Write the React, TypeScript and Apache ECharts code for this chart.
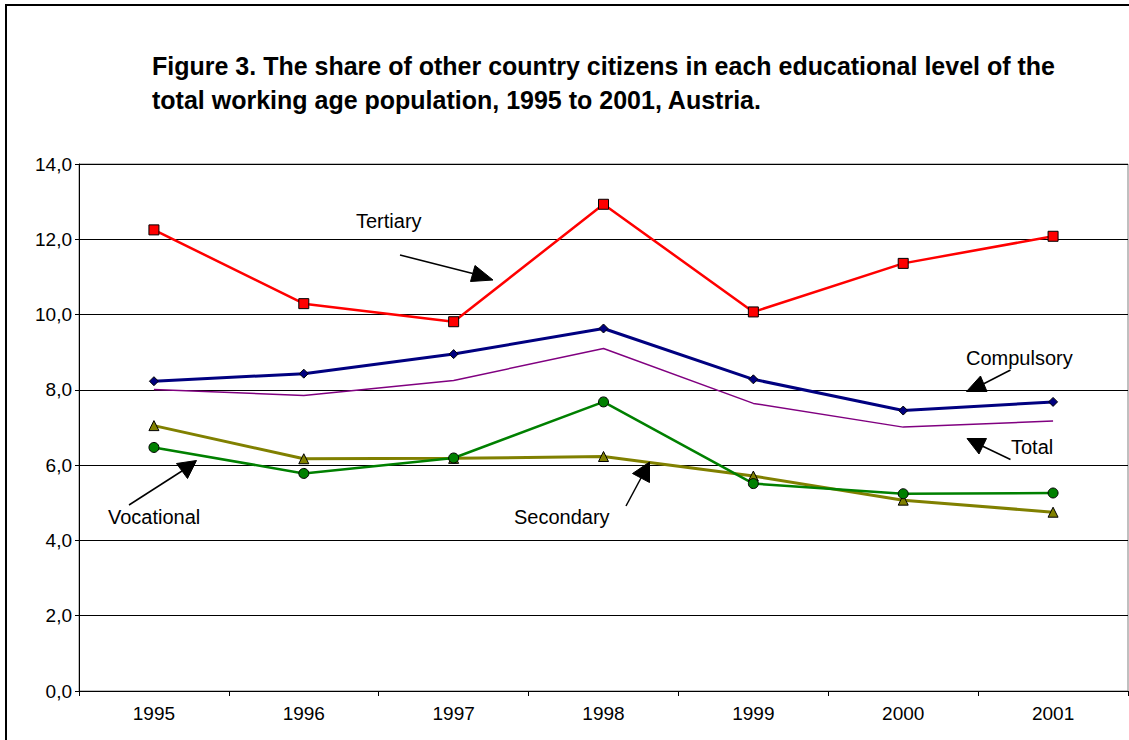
import React, { useEffect, useRef } from "react";
import * as echarts from "echarts";

const years = ["1995", "1996", "1997", "1998", "1999", "2000", "2001"];
const tertiary = [12.25, 10.29, 9.81, 12.93, 10.07, 11.36, 12.08];
const compulsory = [8.23, 8.43, 8.95, 9.63, 8.28, 7.45, 7.68];
const total = [8.01, 7.85, 8.25, 9.1, 7.64, 7.01, 7.17];
const secondary = [7.05, 6.17, 6.18, 6.23, 5.71, 5.07, 4.75];
const vocational = [6.47, 5.78, 6.19, 7.68, 5.51, 5.24, 5.26];

const titleLines = [
  "Figure 3. The share of other country citizens in each educational level of the",
  "total working age population, 1995 to 2001, Austria.",
];

const FONT = "'Liberation Sans', Arial, Helvetica, sans-serif";

function arrow(x1: number, y1: number, tip: number[], b1: number[], b2: number[]) {
  return [
    {
      type: "line",
      shape: { x1, y1, x2: (b1[0] + b2[0]) / 2, y2: (b1[1] + b2[1]) / 2 },
      style: { stroke: "#000", lineWidth: 1.5 },
      z: 100,
    },
    {
      type: "polygon",
      shape: { points: [tip, b1, b2] },
      style: { fill: "#000", stroke: "#000", lineWidth: 1 },
      z: 100,
    },
  ];
}

function label(text: string, x: number, y: number) {
  return {
    type: "text",
    x,
    y,
    style: {
      text,
      fill: "#000",
      font: `20px ${FONT}`,
      textVerticalAlign: "middle",
      verticalAlign: "middle",
    },
    z: 100,
  };
}

export default function App() {
  const ref = useRef<HTMLDivElement>(null);
  useEffect(() => {
    document.body.style.margin = "0";
    const chart = echarts.init(ref.current!, null, { renderer: "svg" });
    const mk = (name: string, data: number[], color: string, width: number, symbol: string, size: number) => ({
      name,
      type: "line",
      data,
      symbol,
      symbolSize: size,
      showSymbol: symbol !== "none",
      lineStyle: { color, width },
      itemStyle: { color, borderColor: "#000", borderWidth: 1 },
      emphasis: { disabled: true },
    });
    chart.setOption({
      animation: false,
      backgroundColor: "#fff",
      textStyle: { fontFamily: FONT },
      grid: { left: 79, top: 164, right: 1, bottom: 49, show: true, borderColor: "#808080", borderWidth: 1 },
      xAxis: {
        type: "category",
        data: years,
        boundaryGap: true,
        axisLine: { lineStyle: { color: "#000", width: 1 } },
        axisTick: { show: true, length: 5, lineStyle: { color: "#000" } },
        axisLabel: { color: "#000", fontSize: 19, margin: 13, fontFamily: FONT },
        splitLine: { show: false },
      },
      yAxis: {
        type: "value",
        min: 0,
        max: 14,
        interval: 2,
        axisLine: { show: true, lineStyle: { color: "#000", width: 1 } },
        axisTick: { show: true, length: 4, lineStyle: { color: "#000" } },
        axisLabel: {
          color: "#000",
          fontSize: 19,
          margin: 7,
          fontFamily: FONT,
          formatter: (v: number) => v.toFixed(1).replace(".", ","),
        },
        splitLine: { show: true, lineStyle: { color: "#000", width: 1 } },
      },
      series: [
        mk("Tertiary", tertiary, "#FF0000", 2.5, "rect", 10),
        mk("Compulsory", compulsory, "#000080", 3, "diamond", 9),
        mk("Total", total, "#800080", 1.5, "none", 0),
        mk("Secondary", secondary, "#808000", 3, "triangle", 10),
        mk("Vocational", vocational, "#008000", 2.5, "circle", 10),
      ],
      graphic: [
        {
          type: "rect",
          shape: { x: 6, y: 5, width: 1300, height: 900 },
          style: { fill: "none", stroke: "#000", lineWidth: 2 },
          z: 100,
        },
        {
          type: "text",
          x: 152,
          y: 66,
          style: { text: titleLines[0], fill: "#000", font: `bold 25px ${FONT}`, verticalAlign: "middle" },
        },
        {
          type: "text",
          x: 152,
          y: 100,
          style: { text: titleLines[1], fill: "#000", font: `bold 25px ${FONT}`, verticalAlign: "middle" },
        },
        label("Tertiary", 356, 221),
        label("Compulsory", 966, 358),
        label("Total", 1011, 447),
        label("Vocational", 108, 517),
        label("Secondary", 514, 517),
        ...arrow(400, 255, [493, 280], [475, 265.5], [470.5, 281.5]),
        ...arrow(1010.5, 370, [966.5, 391.5], [987, 391.5], [980.5, 376]),
        ...arrow(1010.5, 459.5, [967, 438.5], [986.5, 438.5], [979, 454]),
        ...arrow(129, 505, [196.5, 460.5], [176.5, 463.5], [187.5, 478.5]),
        ...arrow(626, 506, [649.5, 462], [632.5, 473.5], [649.5, 482.5]),
      ],
    });
    return () => chart.dispose();
  }, []);
  return <div ref={ref} style={{ position: "fixed", left: 0, top: 0, width: 1129, height: 740 }} />;
}
